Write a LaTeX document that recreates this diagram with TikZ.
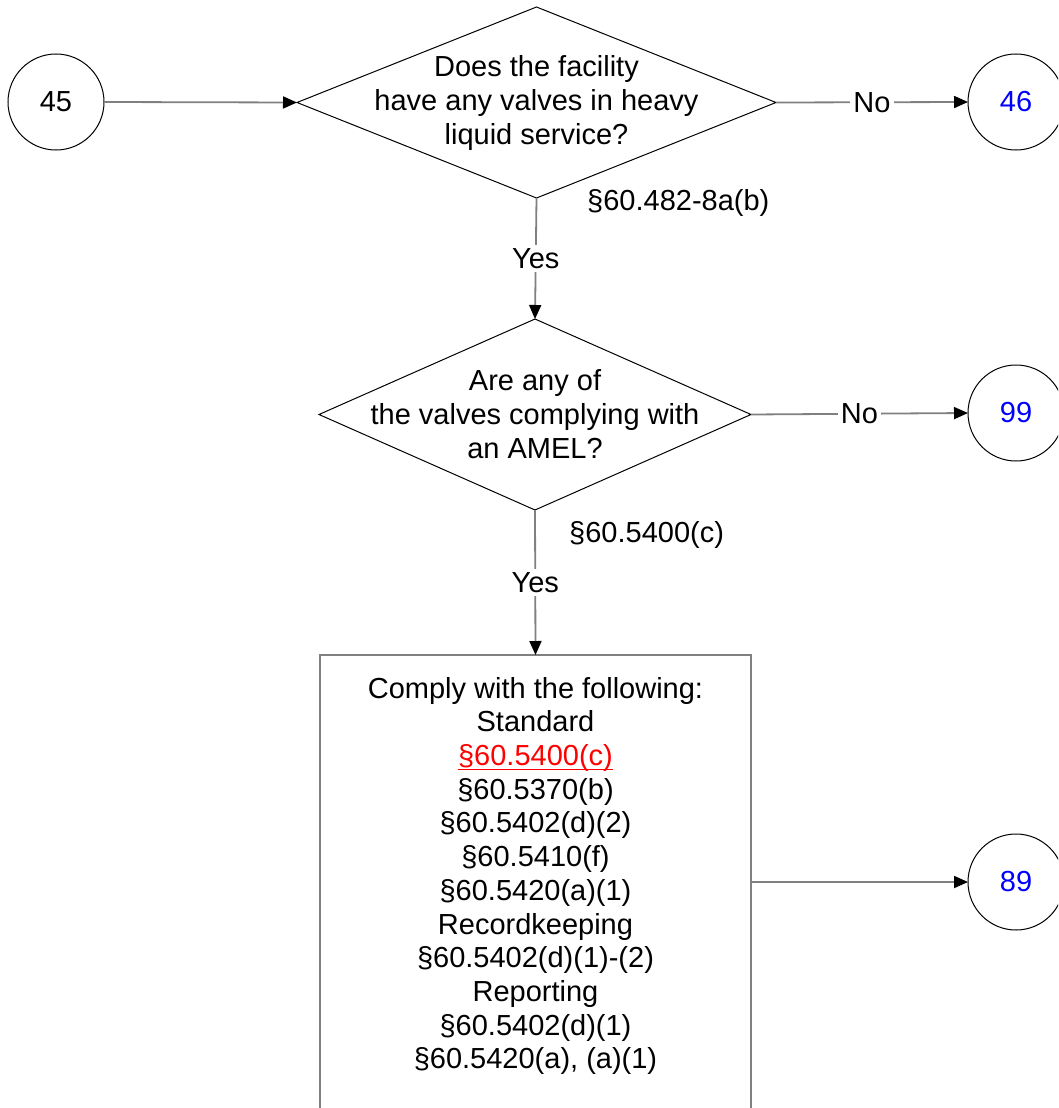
\documentclass[tikz,border=0pt]{standalone}
\usepackage{fontspec}
\setmainfont{Liberation Sans}
\usetikzlibrary{shapes.geometric,arrows.meta}
\definecolor{conn}{HTML}{808080}
\definecolor{lnk}{HTML}{0000FF}
\newsavebox{\myulbox}
\newcommand{\myuline}[1]{\sbox{\myulbox}{#1}\rlap{\usebox{\myulbox}}\raisebox{-4.6pt}{\rule{\wd\myulbox}{1.6pt}}}
\tikzset{
  txt/.style={font=\fontsize{29}{33.7}\selectfont, inner sep=2pt, align=center},
  dec/.style={shape=diamond, draw=black, line width=1pt, inner sep=0pt, outer sep=0pt},
  conn/.style={shape=circle, draw=black, line width=1pt, minimum size=96pt, inner sep=0pt, outer sep=0pt, font=\fontsize{29}{33.7}\selectfont},
  boxst/.style={shape=rectangle, draw=conn, line width=1.8pt, inner sep=0pt, outer sep=0pt},
  arr/.style={draw=conn, line width=1.8pt, -{Triangle[length=14pt,width=12pt,color=black]}},
  lbl/.style={font=\fontsize{29}{33.7}\selectfont, fill=white, inner sep=3pt},
}
\begin{document}
\begin{tikzpicture}[x=1pt,y=-1pt]
\useasboundingbox[fill=white] (0,0) rectangle (1058,1108);
\begin{scope}
\clip (0,0) rectangle (1058,1108);
% nodes
\node[conn] (c45) at (56,102) {45};
\node[conn, text=lnk] (c46) at (1016,102) {46};
\node[conn, text=lnk] (c99) at (1016,413) {99};
\node[conn, text=lnk] (c89) at (1016,882) {89};

\node[dec, minimum width=479pt, minimum height=191pt] (d1) at (536.5,102.5) {};
\node[txt] (t1) at (536.5,103) {Does the facility\\have any valves in heavy\\liquid service?};
\node[txt, anchor=west] (s1) at (585,203) {§60.482-8a(b)};

\node[dec, minimum width=432pt, minimum height=191pt] (d2) at (535,414.5) {};
\node[txt] (t2) at (535,414) {Are any of\\the valves complying with\\an AMEL?};
\node[txt, anchor=west] (s2) at (567,535) {§60.5400(c)};

\node[boxst, minimum width=431pt, minimum height=454pt] (box) at (535.5,882) {};
\node[txt] (tb) at (535.5,876) {Comply with the following:\\Standard\\\textcolor{red}{\myuline{§60.5400(c)}}\\§60.5370(b)\\§60.5402(d)(2)\\§60.5410(f)\\§60.5420(a)(1)\\Recordkeeping\\§60.5402(d)(1)-(2)\\Reporting\\§60.5402(d)(1)\\§60.5420(a), (a)(1)};

% connectors
\draw[arr] (c45.east) -- (d1.west);
\draw[arr] (d1.east) -- node[lbl] (n1) {No} (c46.west);
\draw[arr] (d1.south) -- node[lbl] (y1) {Yes} (d2.north);
\draw[arr] (d2.east) -- node[lbl] (n2) {No} (c99.west);
\draw[arr] (d2.south) -- node[lbl] (y2) {Yes} (box.north);
\draw[arr] (box.east) -- (c89.west);
\end{scope}
\end{tikzpicture}
\end{document}
